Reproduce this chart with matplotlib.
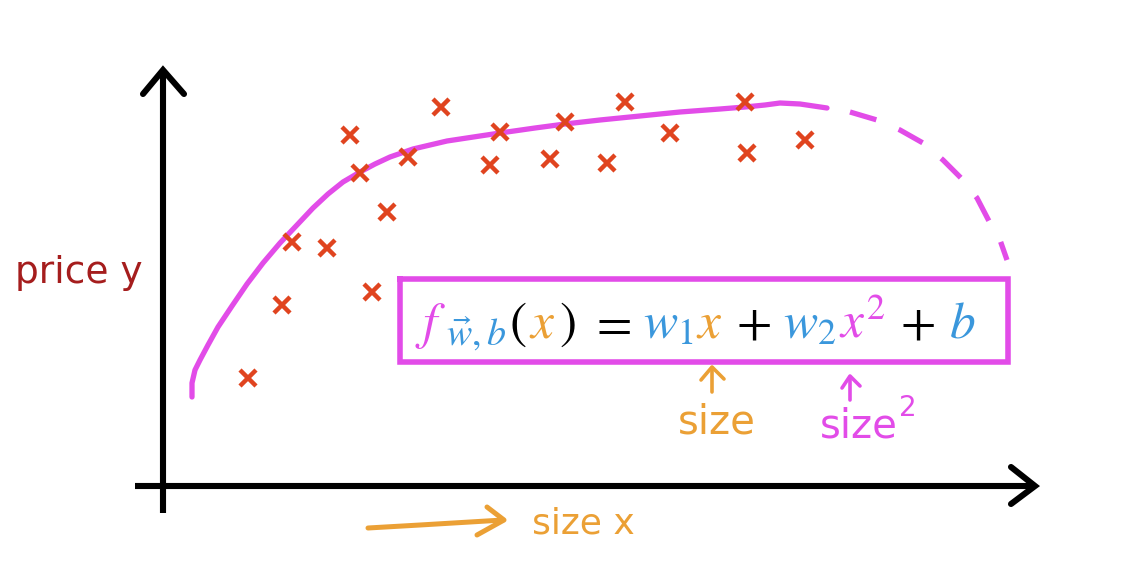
import matplotlib.pyplot as plt

# ── colours ──────────────────────────────────────────────────────────────────
MAGENTA = '#e24ce8'
BLUE = '#3a97dc'
ORANGE = '#eba035'
RED = '#e0441f'
DARKRED = '#a51d1d'

# ── data (image pixel coordinates, y grows downward) ─────────────────────────
cross_x = [248, 282, 292, 327, 372, 387, 350, 360, 408, 441,
           490, 500, 550, 565, 607, 625, 670, 745, 747, 805]
cross_y = [378, 305, 242, 248, 292, 212, 135, 173, 157, 107,
           165, 132, 159, 122, 163, 102, 133, 102, 153, 140]

fit_x = [192, 192, 195, 200, 208, 218, 232, 247, 263, 280, 297, 313, 328,
         343, 360, 375, 390, 413, 447, 480, 500, 535, 565, 600, 640, 680,
         720, 745, 765, 780, 800, 827]
fit_y = [397, 383, 370, 360, 345, 327, 306, 284, 263, 243, 225, 208, 194,
         182, 172, 164, 157, 149, 141, 136, 133, 128, 124, 120, 116, 112,
         109, 107, 105, 103, 104, 108]

extrap_x = [850, 877, 900, 923, 943, 963, 977, 990, 1000, 1007]
extrap_y = [112, 120, 130, 143, 160, 180, 198, 223, 240, 260]

# axis arrows (vertical, horizontal)
yaxis_x, yaxis_y = [163, 163], [513, 70]
yhead_x, yhead_y = [143, 163, 184], [94, 70, 94]
xaxis_x, xaxis_y = [135, 1034], [486, 486]
xhead_x, xhead_y = [1011, 1035, 1011], [467, 486, 504]

box_x = [400, 1008, 1008, 400, 400]
box_y = [279, 279, 362, 362, 279]

fig = plt.figure(figsize=(11.36, 5.72), dpi=100)
ax = fig.add_axes([0, 0, 1, 1])
ax.set_xlim(0, 1136)
ax.set_ylim(572, 0)
ax.axis('off')

# axes
ax.plot(yaxis_x, yaxis_y, color='black', lw=4.4, solid_capstyle='butt')
ax.plot(yhead_x, yhead_y, color='black', lw=4.4, solid_capstyle='round',
        solid_joinstyle='miter')
ax.plot(xaxis_x, xaxis_y, color='black', lw=4.4, solid_capstyle='butt')
ax.plot(xhead_x, xhead_y, color='black', lw=4.4, solid_capstyle='round',
        solid_joinstyle='miter')

# fitted curve + extrapolation
ax.plot(fit_x, fit_y, color=MAGENTA, lw=3.8, solid_capstyle='round',
        solid_joinstyle='round')
ax.plot(extrap_x, extrap_y, color=MAGENTA, lw=3.8, dashes=(5.2, 4.6),
        dash_capstyle='butt')

# data points
ax.plot(cross_x, cross_y, 'x', color=RED, ms=12, mew=3.2, ls='none')

# formula box
ax.plot(box_x, box_y, color=MAGENTA, lw=4.0, solid_joinstyle='miter')

# formula, built piece by piece so each symbol keeps its colour
plt.rcParams['mathtext.fontset'] = 'stix'
fig.canvas.draw()
renderer = fig.canvas.get_renderer()
FS = 37
pieces = [
    (r'$f$', MAGENTA, FS, 0, 0),
    (r'$\vec{w},b$', BLUE, FS * 0.74, 8, 0),
    (r'$($', 'black', FS, 0, 2),
    (r'$x$', ORANGE, FS, 0, 3),
    (r'$)$', 'black', FS, 0, 3),
    (r'$=$', 'black', FS, 0, 14),
    (r'$w_1$', BLUE, FS, 0, 12),
    (r'$x$', ORANGE, FS, 0, 2),
    (r'$+$', 'black', FS, 0, 14),
    (r'$w_2$', BLUE, FS, 0, 12),
    (r'$x^2$', MAGENTA, FS, 0, 3),
    (r'$+$', 'black', FS, 0, 14),
    (r'$b$', BLUE, FS, 0, 14),
]
x = 415
base = 338
for txt, col, fs, dy, gap in pieces:
    x += gap
    t = ax.text(x, base + dy, txt, color=col, fontsize=fs, va='baseline',
                ha='left')
    bb = t.get_window_extent(renderer)
    x += bb.width

# small annotation arrows
ax.plot([712, 712], [392, 368], color=ORANGE, lw=2.6, solid_capstyle='round')
ax.plot([701, 712, 724], [380, 367, 379], color=ORANGE, lw=2.6,
        solid_capstyle='round')
ax.plot([850, 850], [400, 377], color=MAGENTA, lw=2.6, solid_capstyle='round')
ax.plot([842, 850, 860], [388, 376, 386], color=MAGENTA, lw=2.6,
        solid_capstyle='round')

ax.text(678, 434, 'size', color=ORANGE, fontsize=29, va='baseline',
        family='DejaVu Sans')
ax.text(820, 438, 'size', color=MAGENTA, fontsize=29, va='baseline',
        family='DejaVu Sans')
ax.text(899, 416, '2', color=MAGENTA, fontsize=20, va='baseline',
        family='DejaVu Sans')

# axis labels
ax.text(15, 283, 'price y', color=DARKRED, fontsize=27, va='baseline',
        family='DejaVu Sans')
ax.text(532, 533, 'size x', color=ORANGE, fontsize=26, va='baseline',
        family='DejaVu Sans')

# hand-drawn arrow under the x axis
ax.plot([368, 420, 470, 503], [528, 525, 522, 520], color=ORANGE, lw=3.6,
        solid_capstyle='round')
ax.plot([487, 504, 477], [507, 520, 535], color=ORANGE, lw=3.6,
        solid_capstyle='round', solid_joinstyle='round')

fig.savefig('out.png', dpi=100)
